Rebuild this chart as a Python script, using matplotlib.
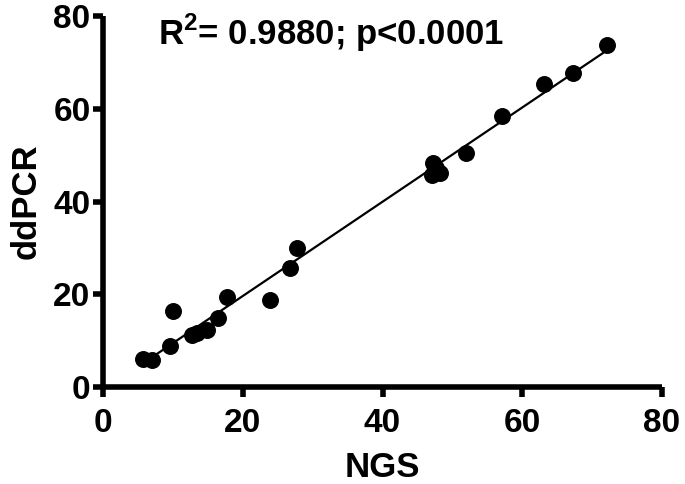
import numpy as np
import matplotlib
matplotlib.use('Agg')
import matplotlib.pyplot as plt

# values
ngs = [5.7, 7.0, 9.6, 10.0, 12.8, 13.4, 14.9, 16.5, 17.7, 23.9, 26.8, 27.8,
       47.1, 47.2, 48.2, 47.6, 51.9, 57.1, 63.1, 67.2, 72.1]
ddpcr = [6.0, 5.9, 8.8, 16.4, 11.2, 11.6, 12.3, 14.9, 19.4, 18.8, 25.7, 30.0,
         45.8, 48.2, 46.2, 47.2, 50.5, 58.4, 65.3, 67.7, 73.7]
ticks = [0, 20, 40, 60, 80]
r2_text = r'R$^{\mathrm{2}}$= 0.9880; p<0.0001'

plt.rcParams['font.family'] = ['Liberation Sans', 'DejaVu Sans']
plt.rcParams['font.weight'] = 'bold'
plt.rcParams['mathtext.fontset'] = 'custom'
plt.rcParams['mathtext.rm'] = 'Liberation Sans'

fig = plt.figure(figsize=(6.85, 4.84), dpi=100)
ax = fig.add_axes([0.1504, 0.2004, 0.816, 0.7665])

x = np.array(ngs)
y = np.array(ddpcr)
slope, icpt = np.polyfit(x, y, 1)
xl = np.array([x.min() + 1.7, x.max()])
ax.plot(xl, slope * xl + icpt, color='black', lw=1.6, zorder=2)
ax.scatter(x, y, s=125, color='black', zorder=3, clip_on=False)

ax.set_xlim(0, 80)
ax.set_ylim(0, 80)
ax.set_xticks(ticks)
ax.set_yticks(ticks)
ax.spines['top'].set_visible(False)
ax.spines['right'].set_visible(False)
for s in ['left', 'bottom']:
    ax.spines[s].set_linewidth(4)
    ax.spines[s].set_capstyle('butt')
ax.tick_params(direction='out', length=7, width=4, labelsize=24)
ax.tick_params(axis='x', pad=8)
ax.tick_params(axis='y', pad=2)
for lab in ax.get_xticklabels() + ax.get_yticklabels():
    lab.set_fontweight('bold')

ax.set_xlabel('NGS', fontsize=25, fontweight='bold', labelpad=9)
ax.set_ylabel('ddPCR', fontsize=25, fontweight='bold', labelpad=8)
ax.text(7.9, 73.7, r2_text, fontsize=25, fontweight='bold', va='baseline', ha='left')

fig.savefig('out.png', dpi=100)
